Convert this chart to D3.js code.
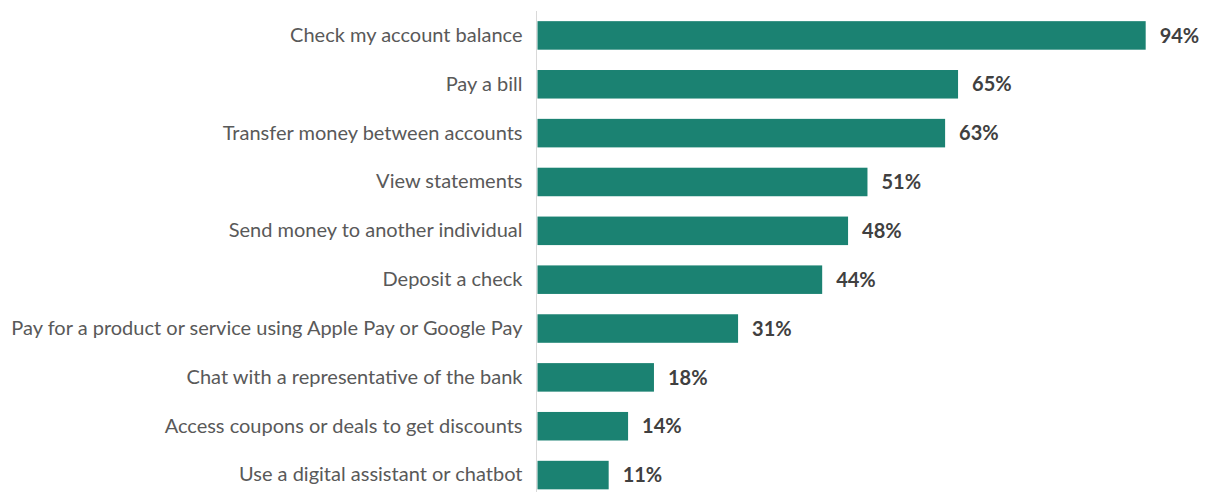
<!DOCTYPE html>
<html>
<head>
<meta charset="utf-8">
<script src="https://cdn.jsdelivr.net/npm/d3@7"></script>
<style>
  html, body { margin: 0; padding: 0; background: #fff; }
  svg { display: block; }
</style>
</head>
<body>
<svg id="chart" width="1208" height="492"></svg>
<script>
// Share of respondents using each mobile banking feature
const categories = [
  "Check my account balance",
  "Pay a bill",
  "Transfer money between accounts",
  "View statements",
  "Send money to another individual",
  "Deposit a check",
  "Pay for a product or service using Apple Pay or Google Pay",
  "Chat with a representative of the bank",
  "Access coupons or deals to get discounts",
  "Use a digital assistant or chatbot"
];
const values = [94, 65, 63, 51, 48, 44, 31, 18, 14, 11];

const plotLeft = 537.5, plotRight = 1184.5;
const plotTop = 11, plotBottom = 492;

const svg = d3.select("#chart");

const x = d3.scaleLinear().domain([0, 100]).range([plotLeft, plotRight]);
const y = d3.scaleBand()
  .domain(categories)
  .range([plotTop, plotTop + 48.85 * categories.length])
  .paddingInner(0.416)
  .paddingOuter(0.208);

// bars
svg.append("g")
  .selectAll("rect")
  .data(values)
  .join("rect")
  .attr("x", x(0))
  .attr("y", (d, i) => y(categories[i]))
  .attr("width", d => x(d) - x(0))
  .attr("height", y.bandwidth())
  .attr("fill", "#1b8272");

// vertical axis line
svg.append("line")
  .attr("x1", plotLeft - 1).attr("x2", plotLeft - 1)
  .attr("y1", plotTop).attr("y2", plotBottom)
  .attr("stroke", "#d9d9d9")
  .attr("stroke-width", 1);

// category labels
const yAxis = d3.axisLeft(y).tickSize(0).tickPadding(15);
const ga = svg.append("g").attr("transform", `translate(${plotLeft},0)`).call(yAxis);
ga.select(".domain").remove();
ga.selectAll("text")
  .attr("font-family", "Lato, 'Open Sans', sans-serif")
  .attr("font-size", 20)
  .attr("fill", "#595959");

// value labels
svg.append("g")
  .selectAll("text")
  .data(values)
  .join("text")
  .attr("x", d => x(d) + 14)
  .attr("y", (d, i) => y(categories[i]) + y.bandwidth() / 2)
  .attr("dy", "0.36em")
  .attr("font-family", "Lato, 'Open Sans', sans-serif")
  .attr("font-weight", "bold")
  .attr("font-size", 20)
  .attr("fill", "#404040")
  .text(d => d + "%");
</script>
</body>
</html>
